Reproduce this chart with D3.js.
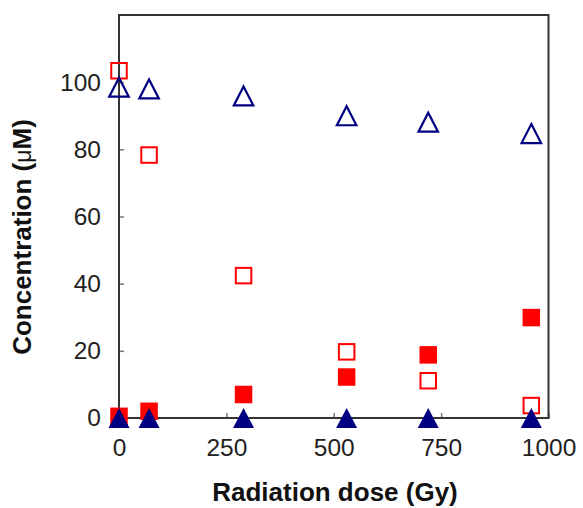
<!DOCTYPE html>
<html><head><meta charset="utf-8">
<script src="https://cdn.jsdelivr.net/npm/d3@7"></script>
<style>body{margin:0;background:#fff}</style>
</head><body>
<svg id="c" width="583" height="508"></svg>
<script>
const doses = [0, 70, 290, 530, 720, 960];
const openSquares = [103.4, 78.3, 42.4, 19.7, 11.1, 3.7];
const filledSquares = [0.5, 2, 7, 12.2, 18.8, 29.9];
const openTriangles = [98.5, 98, 95.9, 90, 88.1, 84.7];
const filledTriangles = [0, 0, 0, 0, 0, 0];
const xTicks = [0, 250, 500, 750, 1000];
const yTicks = [0, 20, 40, 60, 80, 100];

const svg = d3.select("#c");
const L = 119, R = 548.5, T = 15, B = 418;
const x = d3.scaleLinear().domain([0, 1000]).range([L, R]);
const y = d3.scaleLinear().domain([0, 120]).range([B, T]);
const font = "'Liberation Sans', Arial, sans-serif";

// ticks (inward)
const xAxis = svg.append("g").attr("transform", `translate(0,${B})`)
  .call(d3.axisBottom(x).tickValues(xTicks).tickSize(-5).tickPadding(21).tickFormat(d3.format("d")));
const yAxis = svg.append("g").attr("transform", `translate(${L},0)`)
  .call(d3.axisLeft(y).tickValues(yTicks).tickSize(-5).tickPadding(18).tickFormat(d3.format("d")));
[xAxis, yAxis].forEach(g => {
  g.select(".domain").remove();
  g.selectAll(".tick line").attr("stroke", "#777").attr("stroke-width", 1.5);
  g.selectAll(".tick text").attr("font-family", font).attr("font-size", 24.5).attr("fill", "#222");
});
xAxis.selectAll(".tick text").attr("dy", "0.71em");
// frame
svg.append("rect").attr("x", L).attr("y", T).attr("width", R - L).attr("height", B - T)
  .attr("fill", "none").attr("stroke", "#333").attr("stroke-width", 2);

// axis titles
svg.append("text").attr("x", 335).attr("y", 501).attr("text-anchor", "middle")
  .attr("font-family", font).attr("font-weight", "bold").attr("font-size", 26).attr("fill", "#111")
  .text("Radiation dose (Gy)");
const yt = svg.append("text").attr("transform", "translate(31,237) rotate(-90)").attr("text-anchor", "middle")
  .attr("font-family", font).attr("font-weight", "bold").attr("font-size", 26).attr("fill", "#111");
yt.append("tspan").text("Concentration (");
yt.append("tspan").attr("font-weight", "normal").attr("font-size", 23).text("μ");
yt.append("tspan").text("M)");

const pts = (vals) => doses.map((d, i) => ({d, v: vals[i]}));
const S = 17.5;
// squares
svg.append("g").selectAll("rect").data(pts(openSquares)).join("rect")
  .attr("x", p => x(p.d) - S/2 + 1).attr("y", p => y(p.v) - S/2 + 1)
  .attr("width", S - 2).attr("height", S - 2)
  .attr("fill", "none").attr("stroke", "#ff0000").attr("stroke-width", 2);
svg.append("g").selectAll("rect").data(pts(filledSquares)).join("rect")
  .attr("x", p => x(p.d) - S/2).attr("y", p => y(p.v) - S/2)
  .attr("width", S).attr("height", S).attr("fill", "#ff0000");
// triangles
const tri = (cx, cy, w, h) => `M${cx},${cy - h/2}L${cx + w/2},${cy + h/2}L${cx - w/2},${cy + h/2}Z`;
svg.append("g").selectAll("path").data(pts(openTriangles)).join("path")
  .attr("d", p => tri(x(p.d), y(p.v), 19.5, 19))
  .attr("fill", "none").attr("stroke", "#000080").attr("stroke-width", 2.2);
svg.append("g").selectAll("path").data(pts(filledTriangles)).join("path")
  .attr("d", p => tri(x(p.d), y(p.v), 21, 20))
  .attr("fill", "#000080");
</script>
</body></html>
